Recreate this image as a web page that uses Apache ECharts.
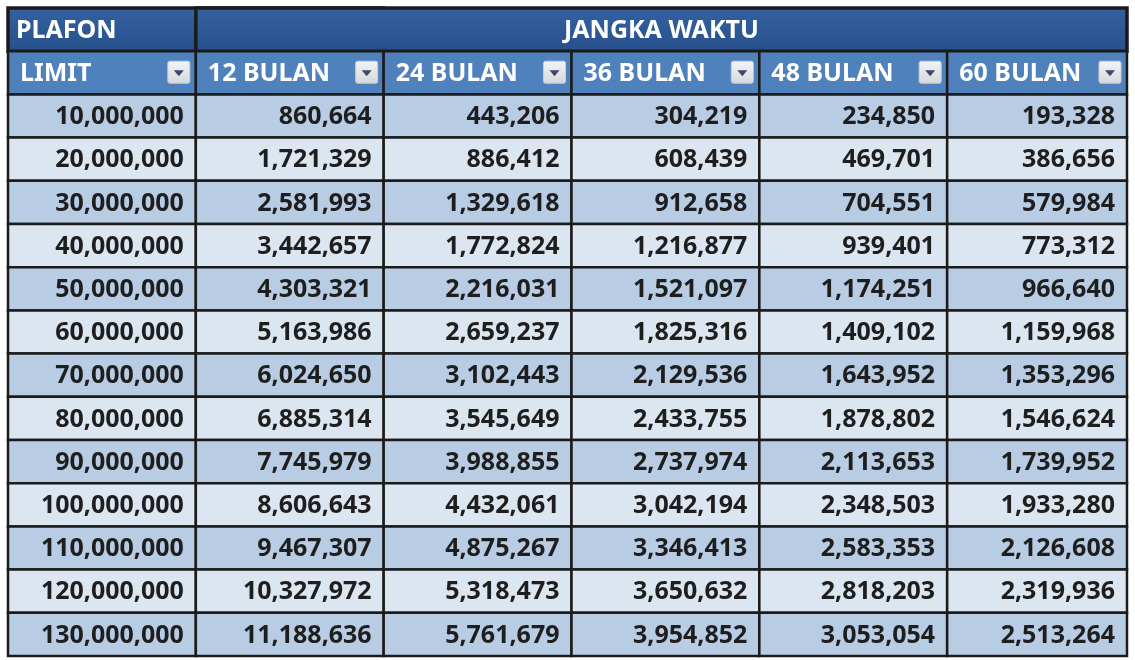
<!DOCTYPE html>
<html><head><meta charset="utf-8">
<script src="https://cdn.jsdelivr.net/npm/echarts@6/dist/echarts.min.js"></script>
<style>html,body{margin:0;padding:0;background:#fff}#c{width:1135px;height:660px}</style>
</head><body><div id="c"></div>
<script>
const topHeader = ['PLAFON', 'JANGKA WAKTU'];
const columns = ['LIMIT', '12 BULAN', '24 BULAN', '36 BULAN', '48 BULAN', '60 BULAN'];
const limits = ['10,000,000','20,000,000','30,000,000','40,000,000','50,000,000','60,000,000','70,000,000','80,000,000','90,000,000','100,000,000','110,000,000','120,000,000','130,000,000'];
const bulan12 = ['860,664','1,721,329','2,581,993','3,442,657','4,303,321','5,163,986','6,024,650','6,885,314','7,745,979','8,606,643','9,467,307','10,327,972','11,188,636'];
const bulan24 = ['443,206','886,412','1,329,618','1,772,824','2,216,031','2,659,237','3,102,443','3,545,649','3,988,855','4,432,061','4,875,267','5,318,473','5,761,679'];
const bulan36 = ['304,219','608,439','912,658','1,216,877','1,521,097','1,825,316','2,129,536','2,433,755','2,737,974','3,042,194','3,346,413','3,650,632','3,954,852'];
const bulan48 = ['234,850','469,701','704,551','939,401','1,174,251','1,409,102','1,643,952','1,878,802','2,113,653','2,348,503','2,583,353','2,818,203','3,053,054'];
const bulan60 = ['193,328','386,656','579,984','773,312','966,640','1,159,968','1,353,296','1,546,624','1,739,952','1,933,280','2,126,608','2,319,936','2,513,264'];

const valueCols = [limits, bulan12, bulan24, bulan36, bulan48, bulan60];
const rowCats = ['h1', 'h2'].concat(limits.map((_, i) => 'r' + i));
const data = [];
data.push({value: [0, 0, 1, 0], text: topHeader[0]});
data.push({value: [1, 0, 5, 0], text: topHeader[1]});
columns.forEach((c, i) => data.push({value: [i, 1, i, 1], text: c}));
valueCols.forEach((col, ci) => col.forEach((v, ri) => data.push({value: [ci, ri + 2, ci, 2], text: v})));

const chart = echarts.init(document.getElementById('c'));
const FONT = '"Noto Sans", sans-serif';
const FS = 25;
chart.setOption({
  animation: false,
  grid: {left: 8, top: 8, right: -30, height: 648},
  xAxis: {type: 'category', data: columns, show: false},
  yAxis: {type: 'category', data: rowCats, inverse: true, show: false},
  series: [{
    type: 'custom', clip: false, data: data,
    renderItem: function (params, api) {
      const c0 = api.value(0), r = api.value(1), c1 = api.value(2), kind = api.value(3);
      const item = data[params.dataIndex];
      const sz = api.size([1, 1]);
      const p0 = api.coord([c0, r]), p1 = api.coord([c1, r]);
      let x = p0[0] - sz[0] / 2, y = p0[1] - sz[1] / 2;
      let right = Math.min(p1[0] + sz[0] / 2, api.getWidth() - 8);
      const w = right - x, h = sz[1];
      const ri = r - 2;
      let fill = kind === 0 ? new echarts.graphic.LinearGradient(0, 0, 0, 1, [{offset: 0, color: '#3562a0'}, {offset: 1, color: '#26508c'}])
        : kind === 1 ? '#4f81bd' : (ri % 2 === 0 ? '#b8cce4' : '#dce6f1');
      const children = [{
        type: 'rect', shape: {x: x, y: y, width: w, height: h},
        style: {fill: fill, stroke: '#1b1b1b', lineWidth: kind === 0 ? 3.5 : 2.5}
      }];
      if (kind === 0) {
        children.push({type: 'text', style: {text: item.text, x: c0 === 0 ? x + 8 : x + w / 2, y: y + h / 2 + 1,
          align: c0 === 0 ? 'left' : 'center', verticalAlign: 'middle', fill: '#fff', font: 'bold ' + FS + 'px ' + FONT}});
      } else if (kind === 1) {
        children.push({type: 'text', style: {text: item.text, x: x + 12, y: y + h / 2 + 1,
          align: 'left', verticalAlign: 'middle', fill: '#fff', font: 'bold ' + FS + 'px ' + FONT}});
        const bx = right - 28, by = y + 10, bs = 22;
        children.push({type: 'rect', shape: {x: bx, y: by, width: bs, height: bs, r: 2},
          style: {fill: new echarts.graphic.LinearGradient(0, 0, 0, 1, [{offset: 0, color: '#f4f4f4'}, {offset: 1, color: '#d4d8de'}]), stroke: '#c9ced6', lineWidth: 1}});
        children.push({type: 'polygon', shape: {points: [[bx + 6, by + 9], [bx + 16, by + 9], [bx + 11, by + 15]]},
          style: {fill: '#3a4a66'}});
      } else {
        children.push({type: 'text', style: {text: item.text, x: right - 12, y: y + h / 2 + 1,
          align: 'right', verticalAlign: 'middle', fill: '#1e1e1e', font: 'bold ' + FS + 'px ' + FONT}});
      }
      return {type: 'group', children: children};
    }
  }]
});
</script></body></html>
